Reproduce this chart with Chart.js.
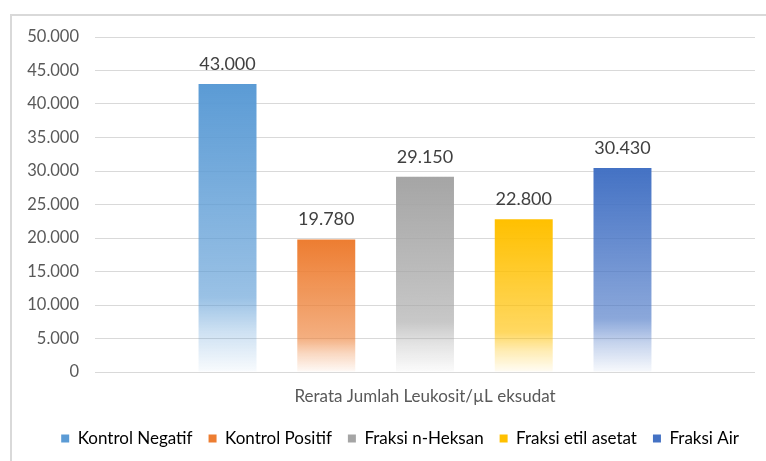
<!DOCTYPE html>
<html>
<head>
<meta charset="utf-8">
<script src="https://cdn.jsdelivr.net/npm/chart.js@4.4.1/dist/chart.umd.min.js"></script>
<style>
  html, body { margin: 0; padding: 0; background: #fff; overflow: hidden; }
  #wrap { position: relative; width: 766px; height: 461px; }
  #frame { position: absolute; left: 10px; top: 14px; width: 800px; height: 500px; border: 2px solid #d9d9d9; box-sizing: border-box; }
  canvas { position: absolute; left: 0; top: 0; }
</style>
</head>
<body>
<div id="wrap">
  <div id="frame"></div>
  <canvas id="leukoChart" width="766" height="461"></canvas>
</div>
<script>
const categories = ["Rerata Jumlah Leukosit/µL eksudat"];
const groups = ["Kontrol Negatif", "Kontrol Positif", "Fraksi n-Heksan", "Fraksi etil asetat", "Fraksi Air"];
const values = [43000, 19780, 29150, 22800, 30430];
const colors = ["#5B9BD5", "#ED7D31", "#A5A5A5", "#FFC000", "#4472C4"];
const yTicks = [0, 5000, 10000, 15000, 20000, 25000, 30000, 35000, 40000, 45000, 50000];

const FONT = "Lato, 'Liberation Sans', sans-serif";

function fmt(v) {
    return String(v).replace(/\B(?=(\d{3})+(?!\d))/g, ".");
}

function rgba(hex, a) {
    const n = parseInt(hex.slice(1), 16);
    return "rgba(" + (n >> 16) + "," + ((n >> 8) & 255) + "," + (n & 255) + "," + a + ")";
}

// gradient that fades each bar to white towards its base
function barFill(color) {
    return function (context) {
        const chart = context.chart;
        const y = chart.scales.y;
        if (!chart.chartArea || !y || context.raw == null) return color;
        const top = y.getPixelForValue(context.raw);
        const base = y.getPixelForValue(0);
        if (!isFinite(top) || !isFinite(base) || base - top < 1) return color;
        const g = chart.ctx.createLinearGradient(0, top, 0, base);
        g.addColorStop(0, rgba(color, 1));
        g.addColorStop(0.74, rgba(color, 0.62));
        g.addColorStop(0.86, rgba(color, 0.3));
        g.addColorStop(1, rgba(color, 0.04));
        return g;
    };
}

const valueLabels = {
    id: "valueLabels",
    afterDatasetsDraw(chart) {
        const ctx = chart.ctx;
        ctx.save();
        ctx.font = "18px " + FONT;
        ctx.fillStyle = "#404040";
        ctx.textAlign = "center";
        ctx.textBaseline = "middle";
        chart.data.datasets.forEach((ds, i) => {
            const el = chart.getDatasetMeta(i).data[0];
            if (!el) return;
            ctx.fillText(fmt(ds.data[0]), el.x, el.y - 20);
        });
        ctx.restore();
    }
};

const datasets = groups.map((name, i) => ({
    label: name,
    data: [values[i]],
    backgroundColor: barFill(colors[i]),
    borderWidth: 0,
    categoryPercentage: 0.748,
    barPercentage: 0.587
}));

new Chart(document.getElementById("leukoChart").getContext("2d"), {
    type: "bar",
    data: { labels: categories, datasets: datasets },
    options: {
        responsive: false,
        animation: false,
        layout: { padding: { top: 37, right: 11, bottom: 4, left: 0 } },
        scales: {
            x: {
                grid: { display: false, drawTicks: false },
                border: { display: false },
                ticks: { color: "#595959", font: { family: FONT, size: 17 }, padding: 14 },
                afterFit: s => { s.height = 42; }
            },
            y: {
                min: 0,
                max: 50000,
                afterBuildTicks: s => { s.ticks = yTicks.map(v => ({ value: v })); },
                grid: { color: "#d9d9d9", lineWidth: 1, drawTicks: false },
                border: { display: false },
                ticks: {
                    color: "#595959",
                    font: { family: FONT, size: 16.5 },
                    padding: 16,
                    callback: v => fmt(v)
                },
                afterFit: s => { s.width = 95; }
            }
        },
        plugins: {
            legend: {
                position: "bottom",
                align: "end",
                labels: {
                    boxWidth: 8,
                    boxHeight: 8,
                    padding: 16,
                    color: "#595959",
                    font: { family: FONT, size: 17 },
                    generateLabels: chart => groups.map((g, i) => ({
                        text: g,
                        fillStyle: colors[i],
                        strokeStyle: colors[i],
                        lineWidth: 0,
                        datasetIndex: i,
                        hidden: false
                    }))
                }
            },
            tooltip: { enabled: false }
        }
    },
    plugins: [valueLabels]
});
</script>
</body>
</html>
